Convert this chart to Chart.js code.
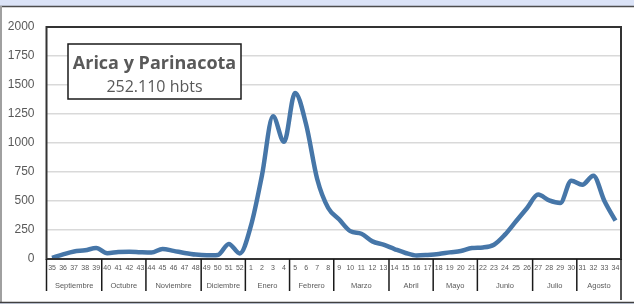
<!DOCTYPE html>
<html>
<head>
<meta charset="utf-8">
<script src="https://cdn.jsdelivr.net/npm/chart.js@4/dist/chart.umd.min.js"></script>
<style>
  html, body { margin: 0; padding: 0; background: #dbe3f7; }
  #wrap { position: relative; width: 634px; height: 304px; }
  canvas { display: block; }
</style>
</head>
<body>
<div id="wrap"><canvas id="grafico" width="634" height="304"></canvas></div>
<script>
// Semanas epidemiológicas (35 a 34)
const semanas = ['35','36','37','38','39','40','41','42','43','44','45','46','47','48','49','50','51','52',
  '1','2','3','4','5','6','7','8','9','10','11','12','13','14','15','16','17',
  '18','19','20','21','22','23','24','25','26','27','28','29','30','31','32','33','34'];

// Casos por semana
const casos = [10, 40, 65, 75, 95, 50, 60, 63, 58, 55, 86, 70, 52, 38, 32, 35, 130, 48,
  285, 720, 1230, 1010, 1432, 1160, 690, 440, 340, 240, 218, 152, 123, 86, 52, 30, 35,
  43, 57, 69, 95, 100, 123, 210, 325, 440, 555, 505, 483, 675, 640, 718, 500, 330];

// Meses y cantidad de semanas en cada uno
const meses = ['Septiembre','Octubre','Noviembre','Diciembre','Enero','Febrero','Marzo','Abril','Mayo','Junio','Julio','Agosto'];
const semanasPorMes = [5, 4, 5, 4, 4, 4, 5, 4, 4, 5, 4, 4];

const yTicks = [0, 250, 500, 750, 1000, 1250, 1500, 1750, 2000];

const gris = '#595959';

// Dibuja fondo, marco, semanas y meses
const ejePlugin = {
  id: 'ejeMeses',
  beforeDraw(chart) {
    const c = chart.ctx;
    c.save();
    c.fillStyle = '#ffffff';
    c.fillRect(0, 6, 634, 296);
    c.fillStyle = '#dbe3f7';
    c.fillRect(0, 0, 634, 6);
    c.strokeStyle = '#4d4d4d';
    c.lineWidth = 1.5;
    c.beginPath();
    c.moveTo(0, 6.5); c.lineTo(634, 6.5);
    c.stroke();
    c.strokeStyle = '#a0a0a0';
    c.lineWidth = 2;
    c.beginPath();
    c.moveTo(1, 6); c.lineTo(1, 302);
    c.stroke();
    c.strokeStyle = '#404040';
    c.lineWidth = 1.5;
    c.beginPath();
    c.moveTo(0, 302.5); c.lineTo(634, 302.5);
    c.stroke();
    c.restore();
  },
  afterDraw(chart) {
    const c = chart.ctx;
    const x = chart.scales.x;
    const a = chart.chartArea;
    const paso = x.getPixelForValue(1) - x.getPixelForValue(0);
    c.save();
    // marco del área
    c.strokeStyle = '#333333';
    c.lineWidth = 2;
    c.strokeRect(a.left, a.top, a.right - a.left, a.bottom - a.top);

    // números de semana
    c.fillStyle = gris;
    c.font = '7px "Liberation Sans", Arial, sans-serif';
    c.textAlign = 'center';
    c.textBaseline = 'middle';
    semanas.forEach((s, i) => {
      c.fillText(s, x.getPixelForValue(i), a.bottom + 9.5);
    });

    // meses y separadores
    c.font = '7.5px "Liberation Sans", Arial, sans-serif';
    c.strokeStyle = '#1a1a1a';
    c.lineWidth = 1.5;
    let ini = 0;
    semanasPorMes.forEach((n, m) => {
      const x0 = x.getPixelForValue(ini) - paso / 2;
      const x1 = x.getPixelForValue(ini + n - 1) + paso / 2;
      c.fillText(meses[m], (x0 + x1) / 2, a.bottom + 27);
      c.beginPath();
      c.moveTo(x0, a.bottom); c.lineTo(x0, a.bottom + 32);
      c.stroke();
      ini += n;
    });
    c.beginPath();
    c.moveTo(a.right, a.bottom); c.lineTo(a.right, a.bottom + 41);
    c.stroke();

    // cuadro de título
    c.fillStyle = '#ffffff';
    c.fillRect(68, 44, 173, 55);
    c.strokeStyle = '#1a1a1a';
    c.lineWidth = 1.5;
    c.strokeRect(68, 44, 173, 55);
    c.fillStyle = gris;
    c.textBaseline = 'alphabetic';
    c.font = 'bold 18px "Open Sans", "Liberation Sans", sans-serif';
    c.fillText('Arica y Parinacota', 154.5, 69);
    c.font = '16px "Open Sans", "Liberation Sans", sans-serif';
    c.fillText('252.110 hbts', 154.5, 92);
    c.restore();
  }
};

new Chart(document.getElementById('grafico'), {
  type: 'line',
  data: {
    labels: semanas,
    datasets: [{
      data: casos,
      borderColor: '#4676a8',
      borderWidth: 4.5,
      pointRadius: 0,
      tension: 0.4,
      cubicInterpolationMode: 'monotone',
      fill: false
    }]
  },
  options: {
    responsive: false,
    animation: false,
    layout: { padding: { top: 27, right: 13, left: 0, bottom: 0 } },
    plugins: { legend: { display: false }, tooltip: { enabled: false } },
    scales: {
      x: {
        offset: true,
        grid: { display: false, drawTicks: false },
        border: { display: false },
        ticks: { display: false },
        afterFit(s) { s.height = 45; }
      },
      y: {
        min: 0,
        max: 2000,
        afterBuildTicks(s) { s.ticks = yTicks.map(v => ({ value: v })); },
        grid: { color: '#d9d9d9', lineWidth: 1.5, drawTicks: false },
        border: { display: false },
        ticks: {
          color: gris,
          padding: 12,
          font: { family: '"Liberation Sans", Arial, sans-serif', size: 12 },
          callback: v => String(v)
        },
        afterFit(s) { s.width = 46.5; }
      }
    }
  },
  plugins: [ejePlugin]
});
</script>
</body>
</html>
